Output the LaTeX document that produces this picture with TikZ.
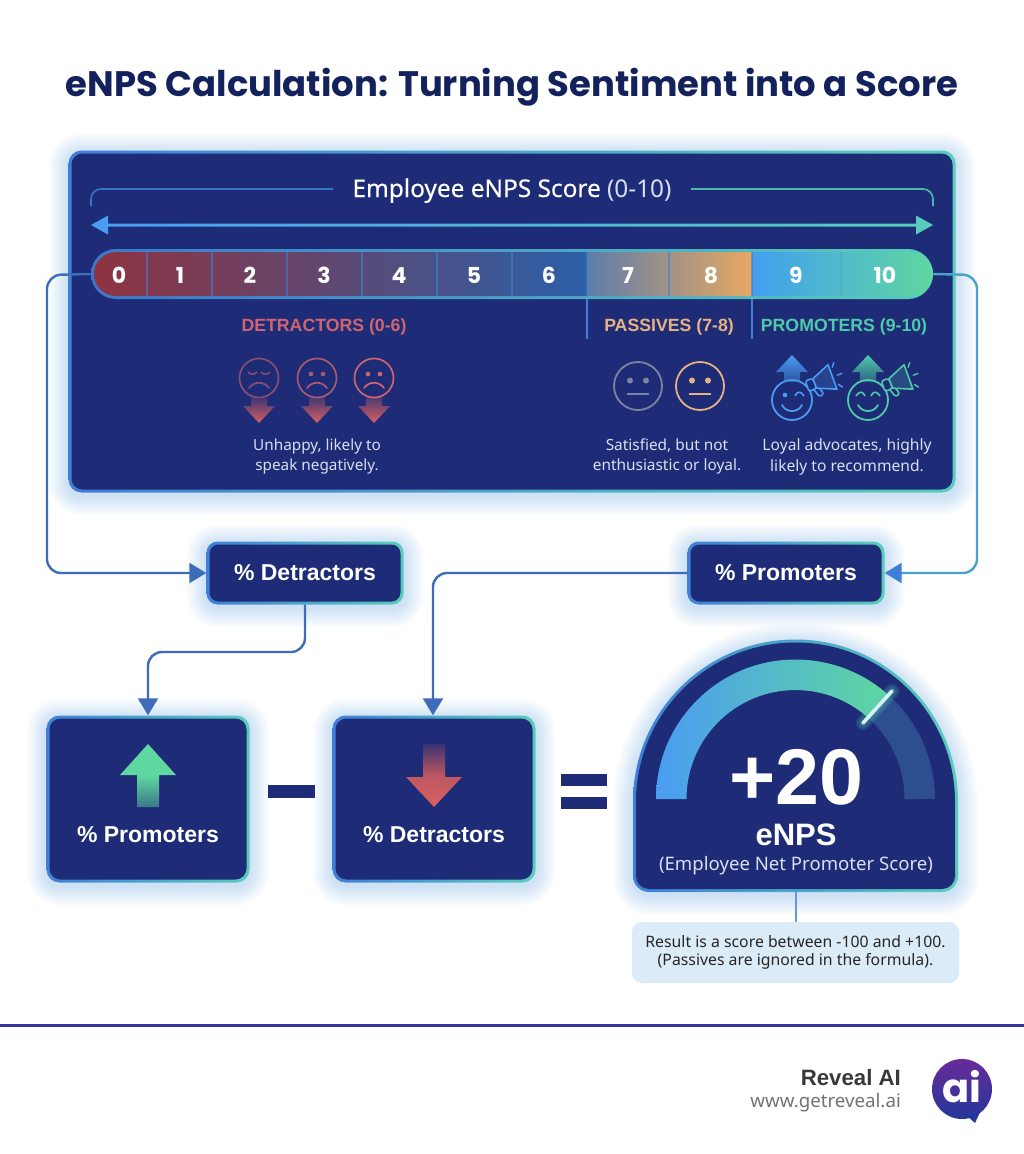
\documentclass[tikz,border=0pt]{standalone}
\usepackage{fontspec}
\setmainfont{Noto Sans}
\newfontfamily\pop{Poppins}
\newfontfamily\bsans[BoldFont={Liberation Sans Bold}]{Liberation Sans}
\newfontfamily\medsans[FakeBold=0.35]{Noto Sans}
\usetikzlibrary{arrows.meta}
\definecolor{navy}{HTML}{1E2B76}
\definecolor{titlec}{HTML}{13215C}
\definecolor{glowc}{HTML}{4A9CF2}
\definecolor{bblue}{HTML}{3F7FD6}
\definecolor{bteal}{HTML}{58CDBB}
\definecolor{conn}{HTML}{3F6CB8}
\definecolor{red1}{HTML}{CF6570}
\definecolor{redt}{HTML}{D9605F}
\definecolor{pass}{HTML}{E6B183}
\definecolor{prom}{HTML}{4FC9A8}
\definecolor{gray1}{HTML}{7D84A0}
\definecolor{soft}{HTML}{D8DFF2}
\definecolor{green1}{HTML}{5FD7A0}
\definecolor{cella}{HTML}{8F3340}
\definecolor{cellb}{HTML}{4F4A82}
\definecolor{cellc}{HTML}{2B5FA8}
\definecolor{celld}{HTML}{5D7DAA}
\definecolor{celle}{HTML}{E8A862}
\definecolor{cellf}{HTML}{429FF0}
\definecolor{dimarc}{HTML}{2D4F8F}
\definecolor{notec}{HTML}{DCEBF8}
\definecolor{sepc}{HTML}{33359C}
\definecolor{logot}{HTML}{6A2A9A}
\definecolor{logob}{HTML}{23389A}
\newcommand\fs[1]{\fontsize{#1}{#1}\selectfont}
\newcommand\glowpath[1]{\foreach \k in {1,...,10}{\draw[glowc,opacity=.028,line width=\k*4pt,line join=round,yshift=-3pt] #1;}}
% name, centre x, centre y, width, height, radius
\newcommand\gbox[6]{%
 \glowpath{[rounded corners=#6pt] ({#2-#4/2},{#3-#5/2}) rectangle ({#2+#4/2},{#3+#5/2})}
 \node[rectangle,rounded corners=#6pt,left color=bblue,right color=bteal,minimum width=#4pt,minimum height=#5pt,inner sep=0pt] (#1) at (#2,#3) {};
 \fill[navy,rounded corners=#6pt-2pt] ({#2-#4/2+3},{#3-#5/2+3}) rectangle ({#2+#4/2-3},{#3+#5/2-3});
}
% x y colour type
\newcommand\sadface[4]{\begin{scope}[shift={(#1,#2)},draw=#3]
 \shade[top color=#3!25!navy,bottom color=redt] (-8,19) -- (8,19) -- (8,28) -- (16,28) -- (0,45) -- (-16,28) -- (-8,28) -- cycle;
 \draw[line width=1.7pt] (0,0) circle[radius=19.5];
 \ifnum#4=0
  \draw[line width=1.5pt] (-11,-6) .. controls (-8,-3) and (-5,-3) .. (-2,-6);
  \draw[line width=1.5pt] (2,-6) .. controls (5,-3) and (8,-3) .. (11,-6);
 \else
  \fill[#3] (-6,-4) circle[radius=2.3]; \fill[#3] (6,-4) circle[radius=2.3];
 \fi
 \draw[line width=1.7pt,line cap=round] (-10,10) .. controls (-5,3) and (5,3) .. (10,10);
\end{scope}}
\newcommand\neutralface[3]{\begin{scope}[shift={(#1,#2)}]
 \draw[#3,line width=1.8pt] (0,0) circle[radius=24];
 \fill[#3] (-8,-5.5) circle[radius=3]; \fill[#3] (8,-5.5) circle[radius=3];
 \draw[#3,line width=2pt] (-11,7.5) -- (11,7.5);
\end{scope}}
\newcommand\upicon[4]{\begin{scope}[shift={(#1,#2)}]
 \shade[top color=#3,bottom color=#3!35!navy] (0,-45) -- (16,-28) -- (8,-28) -- (8,-18) -- (-8,-18) -- (-8,-28) -- (-16,-28) -- cycle;
 \draw[#3,line width=1.8pt] (0,0) circle[radius=20];
 \ifnum#4=0
  \fill[#3] (-7,-5) circle[radius=2.3];
 \else
  \draw[#3,line width=1.6pt] (-12,-4) .. controls (-9,-9) and (-5,-9) .. (-3,-4);
 \fi
 \draw[#3,line width=1.6pt] (3,-4) .. controls (5,-9) and (9,-9) .. (12,-4);
 \draw[#3,line width=1.8pt,line cap=round] (-10,5) .. controls (-6,13) and (6,13) .. (10,5);
 \begin{scope}[shift={(32,-20)},rotate=20,line join=round]
  \draw[#3,line width=1.6pt,fill=navy,rounded corners=1.5pt] (-13,5) -- (-10,14) -- (-5,13) -- (-7,6);
  \draw[#3,line width=1.6pt,fill=#3!20!navy] (-10,-5) -- (9,-13) -- (9,13) -- (-10,5) -- cycle;
  \draw[#3,line width=1.6pt,fill=navy,rounded corners=2.5pt] (-18,-5.5) rectangle (-10,5.5);
  \draw[#3,line width=1.4pt,line cap=round] (12,-9) -- (15,-13) (14,0) -- (19,0) (12,9) -- (15,13);
 \end{scope}
\end{scope}}
\newcommand\domeout{(633,802) arc[start angle=-180,end angle=0,radius=162.5] -- (958,876) arc[start angle=0,end angle=90,radius=16] -- (649,892) arc[start angle=90,end angle=180,radius=16] -- cycle}
\tikzset{
 basetxt/.style={anchor=base,inner sep=0pt},
 conline/.style={conn,line width=2.4pt,rounded corners=14pt},
 tip/.style={-{Triangle[length=17pt,width=20pt]}},
}
\begin{document}
\begin{tikzpicture}[x=1pt,y=-1pt]
\useasboundingbox (0,0) rectangle (1024,1154);
\fill[white] (0,0) rectangle (1024,1154);
\node[basetxt,text=titlec] (title) at (512,96) {\pop\fs{35.4}\bfseries eNPS Calculation: Turning Sentiment into a Score};

% panel
\gbox{panel}{512}{321.5}{887}{342}{13}
\node[basetxt,text=white] (hdr) at (512,197) {\fs{24.4}{\medsans Employee eNPS Score} \textcolor{soft}{(0-10)}};
\coordinate (bl) at (333,189); \coordinate (bla) at (91,189); \coordinate (blb) at (91,206);
\coordinate (br) at (691,189); \coordinate (bra) at (933,189); \coordinate (brb) at (933,206);
\draw[bblue!85!navy,line width=1.6pt,rounded corners=10pt] (bl) -- (bla) -- (blb);
\draw[bteal!85!navy,line width=1.6pt,rounded corners=10pt] (br) -- (bra) -- (brb);
\shade[left color=glowc,right color=bteal] (91,225) -- (108,215.5) -- (108,223.5) -- (916,223.5) -- (916,215.5) -- (933,225) -- (916,234.5) -- (916,226.5) -- (108,226.5) -- (108,234.5) -- cycle;

% scale
\node[rectangle,rounded corners=25pt,left color=bblue!90!navy,right color=bteal,minimum width=842pt,minimum height=50pt,inner sep=0pt] (scale) at (512,274) {};
\begin{scope}
 \clip[rounded corners=22pt] (94,252) rectangle (933,296);
 \shade[left color=cella,middle color=cellb,right color=cellc] (94,252) rectangle (587,296);
 \shade[left color=celld,right color=celle] (587,252) rectangle (752,296);
 \shade[left color=cellf,right color=green1] (752,252) rectangle (933,296);
\end{scope}
\foreach \x in {147,212,287,362,437,512,587,669,752}{\draw[bblue,opacity=.6,line width=1.2pt] (\x,252) -- (\x,296);}
\draw[bteal!60!bblue,line width=1.2pt] (841,252) -- (841,296);
\foreach \n/\x in {0/119,1/180,2/250,3/324,4/399,5/474,6/549,7/628,8/711,9/796,10/885}{
 \node[basetxt,text=white] (d\n) at (\x,283) {\pop\fs{22}\bfseries \n};}
\draw[bblue,line width=2pt] (587,299) -- (587,339);
\draw[bblue,line width=2pt] (752,299) -- (752,339);

\node[basetxt,text=red1] (ldet) at (324,331) {\bsans\fs{17.7}\bfseries DETRACTORS (0-6)};
\node[basetxt,text=pass] (lpas) at (669,331) {\bsans\fs{17.7}\bfseries PASSIVES (7-8)};
\node[basetxt,text=prom] (lpro) at (844,331) {\bsans\fs{17.7}\bfseries PROMOTERS (9-10)};

\sadface{259}{378}{red1!60!navy}{0}
\sadface{317}{378}{red1!80!navy}{1}
\sadface{374}{378}{red1}{1}
\neutralface{638}{386}{gray1}
\neutralface{700}{386}{pass}
\upicon{792}{400}{glowc}{0}
\upicon{868}{400}{prom}{1}

\node[align=center,text=soft,inner sep=0pt] (tdet) at (317,456.5) {\fs{15.3}Unhappy, likely to\\[4.5pt]\fs{15.3}speak negatively.};
\node[align=center,text=soft,inner sep=0pt] (tpas) at (667,456.5) {\fs{15.4}Satisfied, but not\\[4.5pt]\fs{15.4}enthusiastic or loyal.};
\node[align=center,text=soft,inner sep=0pt] (tpro) at (847,456.5) {\fs{15.6}Loyal advocates, highly\\[4.3pt]\fs{15.6}likely to recommend.};

% mid boxes
\gbox{pd}{305}{573}{197}{63}{11}
\node[basetxt,text=white] (pdt) at (305,580) {\bsans\fs{23}\bfseries\% Detractors};
\gbox{pp}{786}{573}{197}{63}{11}
\node[basetxt,text=white] (ppt) at (786,580) {\bsans\fs{23}\bfseries\% Promoters};

% lower boxes
\gbox{bp}{148}{799}{203}{167}{13}
\gbox{bd}{434}{799}{203}{167}{13}
\shade[top color=green1,bottom color=green1!45!navy,middle color=green1] (148,744) -- (176,775) -- (159,775) -- (159,807) -- (137,807) -- (137,775) -- (120,775) -- cycle;
\shade[top color=redt!15!navy,bottom color=redt,middle color=redt!85!navy] (423,744) -- (445,744) -- (445,777) -- (462,777) -- (434,807) -- (406,777) -- (423,777) -- cycle;
\node[basetxt,text=white] (bpt) at (148,842) {\bsans\fs{23}\bfseries\% Promoters};
\node[basetxt,text=white] (bdt) at (434,842) {\bsans\fs{23}\bfseries\% Detractors};

\fill[navy] (268,785) rectangle (315,798);
\fill[navy] (561,774) rectangle (607,786);
\fill[navy] (561,797) rectangle (607,809);

% gauge
\glowpath{\domeout}
\shade[left color=bblue,right color=bteal] \domeout;
\fill[navy] (636,802) arc[start angle=-180,end angle=0,radius=159.5] -- (955,876) arc[start angle=0,end angle=90,radius=13] -- (649,889) arc[start angle=90,end angle=180,radius=13] -- cycle;
\coordinate (gaugebot) at (795.5,892);
\fill[dimarc] (887.9,694.5) arc[start angle=-48.5,end angle=0,radius=139.5] -- (904.5,799) arc[start angle=0,end angle=-48.5,radius=109] -- cycle;
\shade[left color=glowc,middle color=bteal!70!glowc,right color=green1] (656,799) arc[start angle=-180,end angle=-48.5,radius=139.5] -- (867.7,717.4) arc[start angle=-48.5,end angle=-180,radius=109] -- cycle;
\coordinate (na) at (892,691); \coordinate (nb) at (863,723);
\foreach \w in {6,9,12,15}{\draw[bteal,opacity=.12,line width=\w pt,line cap=round] (na) -- (nb);}
\draw[white!75!bteal,line width=3.6pt,line cap=round] (na) -- (nb);
\node[basetxt,text=white] (score) at (796,804) {\bsans\fs{79}\bfseries +20};
\node[basetxt,text=white] (enps) at (796,845) {\bsans\fs{31}\bfseries eNPS};
\node[basetxt,text=soft] (enpsl) at (796,870) {\fs{18.6}(Employee Net Promoter Score)};

% note
\node[rectangle,rounded corners=10pt,fill=notec,minimum width=327pt,minimum height=61pt,inner sep=0pt,align=center,text=black!85] (note) at (795.5,952.5) {\fs{15.8}Result is a score between -100 and +100.\\[4.5pt]\fs{15.8}(Passives are ignored in the formula).};
\draw[bblue!80!white,line width=2pt] (gaugebot) -- (note.north);

% connectors
\coordinate (la) at (47,275); \coordinate (lb) at (47,573);
\draw[conline,tip] (scale.west) -- (la) -- (lb) -- (pd.west);
\coordinate (ra) at (977,275); \coordinate (rb) at (977,573);
\draw[conline,bteal!45!bblue,-{Triangle[length=17pt,width=20pt,color=bblue,fill=bblue]}] (scale.east) -- (ra) -- (rb) -- (pp.east);
\coordinate (ma) at (305,652); \coordinate (mb) at (148,652);
\draw[conline,tip] (pd.south) -- (ma) -- (mb) -- (bp.north);
\coordinate (na2) at (433,573); 
\draw[conline,tip] (pp.west) -- (na2) -- (na2|-bd.north);

% footer
\coordinate (sepl) at (0,1025); \coordinate (sepr) at (1024,1025);
\draw[sepc,line width=3pt] (sepl) -- (sepr);
\node[anchor=base east,inner sep=0pt,text=black!78] (rev) at (901,1085) {\bsans\fs{22.2}\bfseries Reveal AI};
\node[anchor=base east,inner sep=0pt,text=black!55] (www) at (901,1107) {\fs{18.7}www.getreveal.ai};
\shade[top color=logot,bottom color=logob] (962,1089) circle[radius=30];
\fill[logob] (966,1115) -- (975,1123) -- (980,1112) -- cycle;
\node[basetxt,text=white] (logo) at (962,1102) {\pop\fs{40}\bfseries ai};
\end{tikzpicture}
\end{document}
